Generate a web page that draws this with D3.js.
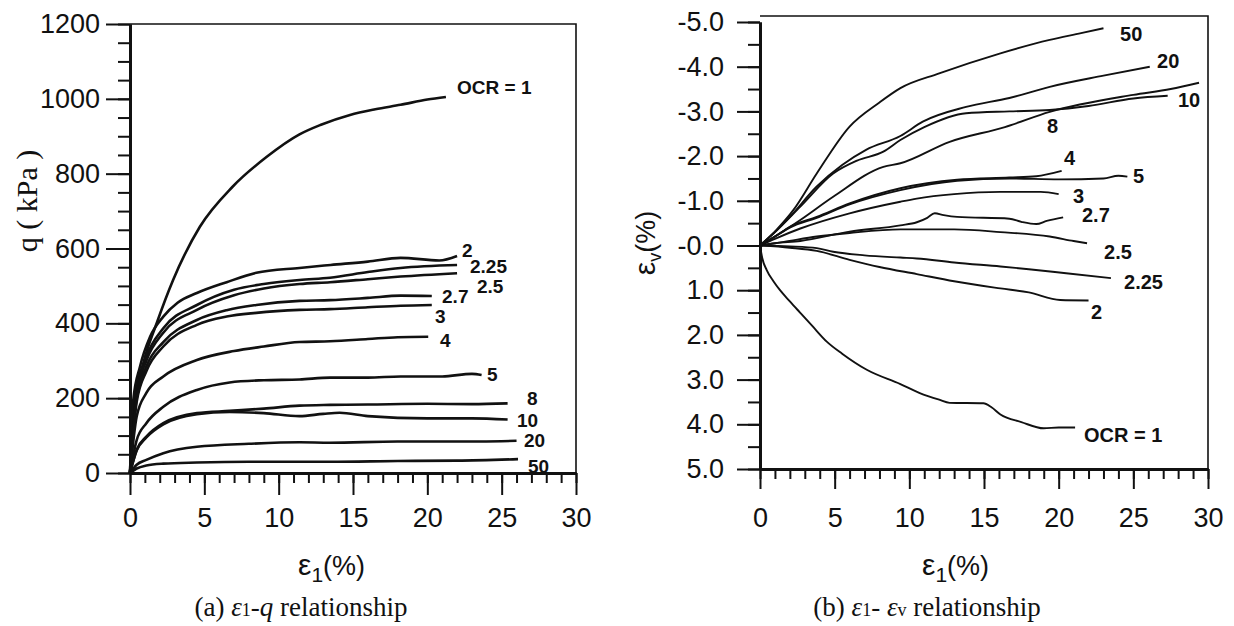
<!DOCTYPE html>
<html><head><meta charset="utf-8">
<script src="https://cdn.jsdelivr.net/npm/d3@7"></script>
<style>
html,body{margin:0;padding:0;background:#fff;}
svg{display:block;}
.tick text{font-family:"Liberation Sans",Arial,sans-serif;font-size:27px;fill:#111;}
</style></head><body>
<svg id="c" width="1234" height="626"></svg>
<script>
// ---------- DATA ----------
// x ticks (ε1 %) shared by both panels
const xTicks = [0,5,10,15,20,25,30];
const xMinorTicks = d3.range(0,31,1);
// panel (a) q (kPa) ticks
const qTicks = [0,200,400,600,800,1000,1200];
const qTickLabels = ["0","200","400","600","800","1000","1200"];
const qMinorTicks = d3.range(0,1201,50);
// panel (b) εv (%) ticks
const evTicks = [-5,-4,-3,-2,-1,0,1,2,3,4,5];
const evTickLabels = ["-5.0","-4.0","-3.0","-2.0","-1.0","-0.0","1.0","2.0","3.0","4.0","5.0"];
const evMinorTicks = d3.range(-5,5.01,0.5);

// panel (a): [ε1, q] per OCR
const qOCR1   = [[0,0],[0.2,160],[0.9,294],[1.8,401],[2.9,516],[4.7,658],[6.9,765],[9.2,845],[11.4,905],[12.8,930],[14.8,957],[16.5,972],[18.2,984],[20,998],[21.25,1005]];
const qOCR2   = [[0,0],[0.22,195],[0.67,284],[1.35,364],[2.24,418],[3.2,455],[4.5,481],[6.5,510],[8.5,535],[11.4,548],[13.5,556],[16,565],[18.2,575],[20.8,568],[22,580]];
const qOCR225 = [[0,0],[0.45,222],[1.1,311],[2.24,387],[4.5,449],[7,490],[9,505],[11.4,516],[13.45,522],[16,537],[18.2,548],[22,556]];
const qOCR25  = [[0,0],[0.45,210],[1.1,300],[2.24,375],[4.5,436],[7,475],[9,493],[11.4,505],[13.45,510],[16,518],[18.2,525],[22,534]];
const qOCR27  = [[0,0],[0.45,200],[1.1,285],[2.24,350],[4.5,409],[6.5,435],[8.5,449],[11.4,460],[13.45,462],[16,468],[18.2,474],[20.3,473]];
const qOCR3   = [[0,0],[0.45,190],[1.1,272],[2.24,338],[4.5,396],[6.5,418],[8.5,428],[11.4,436],[13.45,438],[16,443],[18.2,447],[20.3,449]];
const qOCR4   = [[0,0],[0.45,151],[1.1,214],[2.24,258],[4.5,302],[7,326],[9,338],[11.4,350],[13.45,352],[16,358],[18,363],[20.06,364]];
const qOCR5   = [[0,0],[0.45,88],[1.1,133],[2.24,177],[4.5,222],[6.7,242],[9,248],[11.4,250],[13.45,255],[16,255],[18.2,258],[21,258],[23,265],[23.65,262]];
const qOCR8   = [[0,0],[0.45,62],[1.1,97],[2.24,133],[4.5,160],[6.7,166],[9,172],[11.4,180],[13.45,182],[16,183],[20,185],[23,184],[25.4,186]];
const qOCR10  = [[0,0],[0.45,60],[1.1,95],[2.24,130],[4.5,157],[6.7,163],[9,160],[11.4,152],[13,158],[14.1,161],[16,152],[20,146],[23,146],[25.4,143]];
const qOCR20  = [[0,0],[0.45,22],[1.1,35],[2.24,53],[4.5,70],[8,78],[11.4,82],[13.45,81],[18,84],[22,84],[26,86]];
const qOCR50  = [[0,0],[0.45,12],[1.1,20],[2.24,25],[4.5,28],[8,30],[13.45,30],[18,32],[22,33],[26.1,37]];

// panel (b): [ε1, εv] per OCR
const evOCR1   = [[0,0],[0.15,0.28],[0.45,0.55],[0.9,0.8],[1.34,1.0],[2,1.25],[2.68,1.5],[3.5,1.8],[4.47,2.15],[5.5,2.42],[7.15,2.78],[9.4,3.1],[10.7,3.3],[12,3.45],[12.7,3.52],[14.96,3.53],[15.5,3.62],[16.1,3.78],[17.5,3.95],[19,4.09],[20,4.07],[21.1,4.07]];
const evOCR2   = [[0,0],[2,0.05],[3.8,0.12],[6,0.32],[8,0.48],[10.5,0.64],[13,0.8],[16.1,0.96],[18,1.05],[20.1,1.22],[22,1.23]];
const evOCR225 = [[0,0],[2,0.02],[3.8,0.06],[4.9,0.14],[7,0.22],[9.4,0.27],[10.5,0.29],[13,0.38],[16.1,0.47],[18,0.53],[20.5,0.62],[23.5,0.73]];
const evOCR25  = [[0,0],[1.6,-0.08],[3.8,-0.2],[6,-0.28],[9.4,-0.36],[13,-0.36],[16.1,-0.3],[19.4,-0.2],[21,-0.1],[21.9,-0.05]];
const evOCR27  = [[0,0],[1,-0.05],[2.7,-0.1],[6,-0.31],[9.4,-0.45],[10.5,-0.52],[11.2,-0.62],[11.7,-0.72],[12.3,-0.68],[13.2,-0.64],[16.7,-0.6],[17.5,-0.53],[18.5,-0.48],[19.2,-0.55],[20.3,-0.63]];
const evOCR3   = [[0,0],[1,-0.15],[2.7,-0.38],[6,-0.72],[9.4,-0.98],[10.5,-1.05],[13,-1.15],[16.1,-1.2],[18.8,-1.2],[20,-1.15]];
const evOCR4   = [[0,0],[1,-0.2],[2,-0.42],[3.8,-0.64],[6,-0.94],[9.4,-1.28],[13.2,-1.47],[16.7,-1.52],[18.5,-1.55],[20.2,-1.67]];
const evOCR5   = [[0,0],[1,-0.2],[2,-0.4],[3.8,-0.62],[6,-0.92],[9.4,-1.24],[13.2,-1.45],[16.7,-1.5],[20,-1.48],[23,-1.5],[24,-1.56],[24.6,-1.54]];
const evOCR8   = [[0,0],[1,-0.2],[2.7,-0.57],[4.9,-1.09],[8.26,-1.76],[9.4,-1.84],[12.7,-2.32],[16.4,-2.65],[19.4,-2.99],[25,-3.37],[27.5,-3.5],[29.4,-3.64]];
const evOCR10  = [[0,0],[1,-0.3],[2.7,-0.87],[4.9,-1.61],[6.5,-1.9],[8.26,-2.1],[9.4,-2.36],[11,-2.65],[13.8,-2.96],[16.7,-3.0],[19.4,-3.03],[22,-3.12],[25,-3.29],[27.3,-3.35]];
const evOCR20  = [[0,0],[1,-0.3],[2,-0.64],[3.8,-1.32],[5.5,-1.8],[7.1,-2.14],[9.4,-2.45],[10.9,-2.77],[13.8,-3.1],[16.7,-3.3],[19.4,-3.55],[23,-3.8],[26.1,-4.0]];
const evOCR50  = [[0,0],[1.1,-0.35],[2.23,-0.79],[3.8,-1.61],[6.0,-2.66],[8,-3.2],[9.4,-3.52],[12,-3.85],[16.1,-4.3],[19.4,-4.6],[21.5,-4.75],[23,-4.86]];

// curve labels: [text, ε1, value]
const qLabels  = [["OCR = 1",22.0,1032],["2",22.33,596],["2.25",22.87,554],["2.5",23.34,500],["2.7",20.99,473],["3",20.52,420],["4",20.85,355],["5",24.01,265],["8",26.7,200],["10",26.03,142],["20",26.5,88],["50",26.77,19]];
const evLabels = [["50",24.11,-4.73],["20",26.59,-4.13],["10",27.99,-3.26],["8",19.22,-2.67],["4",20.36,-1.96],["5",24.98,-1.55],["3",20.96,-1.11],["2.7",21.56,-0.68],["2.5",23.04,0.15],["2.25",24.38,0.82],["2",22.17,1.49],["OCR = 1",21.7,4.24]];

const qSeries  = [qOCR1,qOCR2,qOCR225,qOCR25,qOCR27,qOCR3,qOCR4,qOCR5,qOCR8,qOCR10,qOCR20,qOCR50];
const evSeries = [evOCR1,evOCR2,evOCR225,evOCR25,evOCR27,evOCR3,evOCR4,evOCR5,evOCR8,evOCR10,evOCR20,evOCR50];

// ---------- DRAW ----------
const svg = d3.select("#c");
const ink = "#111";
const xL = d3.scaleLinear([0,30],[130,576]);
const yL = d3.scaleLinear([0,1200],[473,24]);
const xR = d3.scaleLinear([0,30],[760,1208]);
const yR = d3.scaleLinear([-5,5],[22,469]);

function styleAxis(g, w){
  g.selectAll("path.domain").attr("stroke",ink).attr("stroke-width",w);
  g.selectAll(".tick line").attr("stroke",ink).attr("stroke-width",2);
}

// Panel (a)
const gA = svg.append("g");
gA.append("path").attr("fill","none").attr("stroke",ink).attr("stroke-width",1.6)
  .attr("d",`M${xL(0)},${yL(1200)}H${xL(30)}V${yL(0)}`);
gA.append("g").attr("transform",`translate(${xL(0)},0)`)
  .call(d3.axisLeft(yL).tickValues(qMinorTicks).tickSize(12).tickFormat("").tickSizeOuter(0))
  .call(g=>styleAxis(g,3));
gA.append("g").attr("transform",`translate(0,${yL(0)})`)
  .call(d3.axisBottom(xL).tickValues(xMinorTicks).tickSize(10).tickFormat("").tickSizeOuter(0))
  .call(g=>styleAxis(g,3));
gA.append("g").attr("transform",`translate(${xL(0)},0)`)
  .call(d3.axisLeft(yL).tickValues(qTicks).tickSize(24).tickPadding(6).tickSizeOuter(0)
        .tickFormat((d,i)=>qTickLabels[i]))
  .call(g=>styleAxis(g,3));
gA.append("g").attr("transform",`translate(0,${yL(0)})`)
  .call(d3.axisBottom(xL).tickValues(xTicks).tickSize(22).tickPadding(13).tickSizeOuter(0))
  .call(g=>styleAxis(g,3));

const lineA = d3.line().x(d=>xL(d[0])).y(d=>yL(d[1])).curve(d3.curveMonotoneX);
gA.selectAll("path.s").data(qSeries).join("path").attr("class","s")
  .attr("fill","none").attr("stroke",ink).attr("stroke-width",2.6).attr("stroke-linejoin","round")
  .attr("d",lineA);
gA.selectAll("text.lab").data(qLabels).join("text").attr("class","lab")
  .attr("x",d=>xL(d[1])).attr("y",d=>yL(d[2])).attr("dy","0.36em")
  .attr("font-family","Liberation Sans, Arial, sans-serif").attr("font-weight","bold")
  .attr("font-size",19).attr("fill",ink).text(d=>d[0]);

gA.append("text").attr("transform","translate(37,201) rotate(-90)").attr("text-anchor","middle")
  .attr("font-family","Liberation Serif, Times New Roman, serif").attr("font-size",30).attr("fill",ink)
  .text("q ( kPa )");
const xtA = gA.append("text").attr("x",298).attr("y",575)
  .attr("font-family","Liberation Sans, Arial, sans-serif").attr("fill",ink);
xtA.append("tspan").attr("font-size",30).text("ε");
xtA.append("tspan").attr("font-size",21).attr("dy",7).text("1");
xtA.append("tspan").attr("font-size",27).attr("dy",-7).text("(%)");

// Panel (b)
const gB = svg.append("g");
gB.append("path").attr("fill","none").attr("stroke",ink).attr("stroke-width",1.6)
  .attr("d",`M${xR(0)},${yR(-5)-6}H${xR(30)}V${yR(5)}`);
gB.append("g").attr("transform",`translate(${xR(0)},0)`)
  .call(d3.axisLeft(yR).tickValues(evMinorTicks).tickSize(12).tickFormat("").tickSizeOuter(0))
  .call(g=>styleAxis(g,3));
gB.append("g").attr("transform",`translate(0,${yR(5)})`)
  .call(d3.axisBottom(xR).tickValues(xMinorTicks).tickSize(10).tickFormat("").tickSizeOuter(0))
  .call(g=>styleAxis(g,3));
gB.append("g").attr("transform",`translate(${xR(0)},0)`)
  .call(d3.axisLeft(yR).tickValues(evTicks).tickSize(23).tickPadding(13).tickSizeOuter(0)
        .tickFormat((d,i)=>evTickLabels[i]))
  .call(g=>styleAxis(g,3));
gB.append("g").attr("transform",`translate(0,${yR(5)})`)
  .call(d3.axisBottom(xR).tickValues(xTicks).tickSize(20).tickPadding(19).tickSizeOuter(0))
  .call(g=>styleAxis(g,3));

const lineB = d3.line().x(d=>xR(d[0])).y(d=>yR(d[1])).curve(d3.curveMonotoneX);
gB.selectAll("path.s").data(evSeries).join("path").attr("class","s")
  .attr("fill","none").attr("stroke",ink).attr("stroke-width",1.9).attr("stroke-linejoin","round")
  .attr("d",lineB);
gB.selectAll("text.lab").data(evLabels).join("text").attr("class","lab")
  .attr("x",d=>xR(d[1])).attr("y",d=>yR(d[2])).attr("dy","0.36em")
  .attr("font-family","Liberation Sans, Arial, sans-serif").attr("font-weight","bold")
  .attr("font-size",20).attr("fill",ink).text(d=>d[0]);

const ytB = gB.append("text").attr("transform","translate(655,243) rotate(-90)").attr("text-anchor","middle")
  .attr("font-family","Liberation Sans, Arial, sans-serif").attr("fill",ink);
ytB.append("tspan").attr("font-size",30).text("ε");
ytB.append("tspan").attr("font-size",18).attr("dy",6).text("v");
ytB.append("tspan").attr("font-size",27).attr("dy",-6).text("(%)");
const xtB = gB.append("text").attr("x",922).attr("y",575)
  .attr("font-family","Liberation Sans, Arial, sans-serif").attr("fill",ink);
xtB.append("tspan").attr("font-size",30).text("ε");
xtB.append("tspan").attr("font-size",21).attr("dy",7).text("1");
xtB.append("tspan").attr("font-size",27).attr("dy",-7).text("(%)");

// captions
const capA = svg.append("text").attr("x",301).attr("y",616).attr("text-anchor","middle")
  .attr("font-family","Liberation Serif, Times New Roman, serif").attr("font-size",27).attr("fill",ink);
capA.append("tspan").text("(a) ");
capA.append("tspan").attr("font-style","italic").text("ε");
capA.append("tspan").attr("font-size",18).text("1");
capA.append("tspan").text("-");
capA.append("tspan").attr("font-style","italic").text("q");
capA.append("tspan").text(" relationship");
const capB = svg.append("text").attr("x",927).attr("y",616).attr("text-anchor","middle")
  .attr("font-family","Liberation Serif, Times New Roman, serif").attr("font-size",27).attr("fill",ink);
capB.append("tspan").text("(b) ");
capB.append("tspan").attr("font-style","italic").text("ε");
capB.append("tspan").attr("font-size",18).text("1");
capB.append("tspan").text("- ");
capB.append("tspan").attr("font-style","italic").text("ε");
capB.append("tspan").attr("font-size",18).text("v");
capB.append("tspan").text(" relationship");
</script>
</body></html>
